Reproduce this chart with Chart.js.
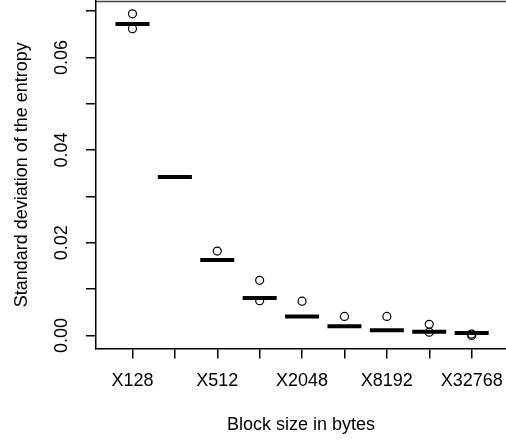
<!DOCTYPE html>
<html>
<head>
<meta charset="utf-8">
<script src="https://cdn.jsdelivr.net/npm/chart.js@4"></script>
<style>
  html, body { margin: 0; padding: 0; background: #fff; overflow: hidden; }
  canvas { display: block; }
</style>
</head>
<body>
<canvas id="sdChart" width="506" height="440"></canvas>
<script>
// block sizes on the x axis
const categories = ['X128', 'X256', 'X512', 'X1024', 'X2048', 'X4096', 'X8192', 'X16384', 'X32768'];
// only every other name fits under the axis
const xTickLabels = ['X128', '', 'X512', '', 'X2048', '', 'X8192', '', 'X32768'];

// median standard deviation per block size
const medians = [0.0672, 0.0342, 0.0163, 0.0081, 0.0041, 0.0020, 0.0011, 0.0008, 0.0005];
// points outside the whiskers, per block size
const outliers = [
  [0.0694, 0.0662],
  [],
  [0.0182],
  [0.0119, 0.0075],
  [0.0074],
  [0.0041],
  [0.0041],
  [0.0024, 0.0007],
  [0.0003, 0.0000]
];

const yTicks = [0, 0.01, 0.02, 0.03, 0.04, 0.05, 0.06, 0.07];
const yTickLabels = ['0.00', '', '0.02', '', '0.04', '', '0.06', ''];

Chart.defaults.font.family = '"Liberation Sans", Arial, Helvetica, sans-serif';
Chart.defaults.font.size = 18;
Chart.defaults.color = '#000';

const medianPoints = medians.map((m, i) => ({ x: i + 1, y: m }));
const outlierPoints = [];
outliers.forEach((list, i) => list.forEach(v => outlierPoints.push({ x: i + 1, y: v })));

// y labels in R style are turned on their side
const rotatedYLabels = {
  id: 'rotatedYLabels',
  afterDraw(chart) {
    const ctx = chart.ctx;
    const y = chart.scales.y;
    ctx.save();
    ctx.font = '18px "Liberation Sans", Arial, sans-serif';
    ctx.fillStyle = '#000';
    ctx.textAlign = 'center';
    ctx.textBaseline = 'middle';
    yTicks.forEach((v, i) => {
      if (!yTickLabels[i]) return;
      ctx.save();
      ctx.translate(62, y.getPixelForValue(v));
      ctx.rotate(-Math.PI / 2);
      ctx.fillText(yTickLabels[i], 0, 0);
      ctx.restore();
    });
    ctx.restore();
  }
};

// top side of the plot box
const frame = {
  id: 'frame',
  afterDraw(chart) {
    const { ctx, chartArea: a } = chart;
    ctx.save();
    ctx.strokeStyle = '#444';
    ctx.lineWidth = 1.5;
    ctx.beginPath();
    ctx.moveTo(a.left, a.top + 0.5);
    ctx.lineTo(a.right, a.top + 0.5);
    ctx.stroke();
    ctx.restore();
  }
};

new Chart(document.getElementById('sdChart'), {
  type: 'scatter',
  data: {
    datasets: [
      {
        label: 'outliers',
        data: outlierPoints,
        pointStyle: 'circle',
        pointRadius: 4,
        borderWidth: 1.2,
        borderColor: '#000',
        backgroundColor: 'rgba(0,0,0,0)'
      },
      {
        label: 'median',
        data: medianPoints,
        pointStyle: 'line',
        pointRadius: 17,
        borderWidth: 4,
        borderColor: '#000',
        backgroundColor: '#000'
      }
    ]
  },
  options: {
    responsive: false,
    animation: false,
    events: [],
    layout: { autoPadding: false, padding: { top: 1, right: 0, bottom: 0, left: 0 } },
    plugins: { legend: { display: false }, tooltip: { enabled: false } },
    scales: {
      x: {
        type: 'linear',
        min: 0.14,
        max: 9.81,
        afterBuildTicks: s => { s.ticks = categories.map((c, i) => ({ value: i + 1 })); },
        afterFit: s => { s.paddingLeft = 0; s.paddingRight = 0; },
        ticks: {
          padding: 12,
          maxRotation: 0,
          autoSkip: false,
          callback: (v, i) => xTickLabels[i]
        },
        grid: { drawOnChartArea: false, tickLength: 10, color: '#000', lineWidth: 1.5 },
        border: { display: true, color: '#000', width: 1.5 },
        title: { display: true, text: 'Block size in bytes', padding: { top: 10.1, bottom: 4.2 } }
      },
      y: {
        min: -0.00282,
        max: 0.07217,
        afterBuildTicks: s => { s.ticks = yTicks.map(v => ({ value: v })); },
        ticks: { display: false },
        grid: { drawOnChartArea: false, tickLength: 10, color: '#000', lineWidth: 1.5 },
        border: { display: true, color: '#000', width: 1.5 },
        title: { display: true, text: 'Standard deviation of the entropy', padding: { top: 10.9, bottom: 53.5 } }
      }
    }
  },
  plugins: [rotatedYLabels, frame]
});
</script>
</body>
</html>
